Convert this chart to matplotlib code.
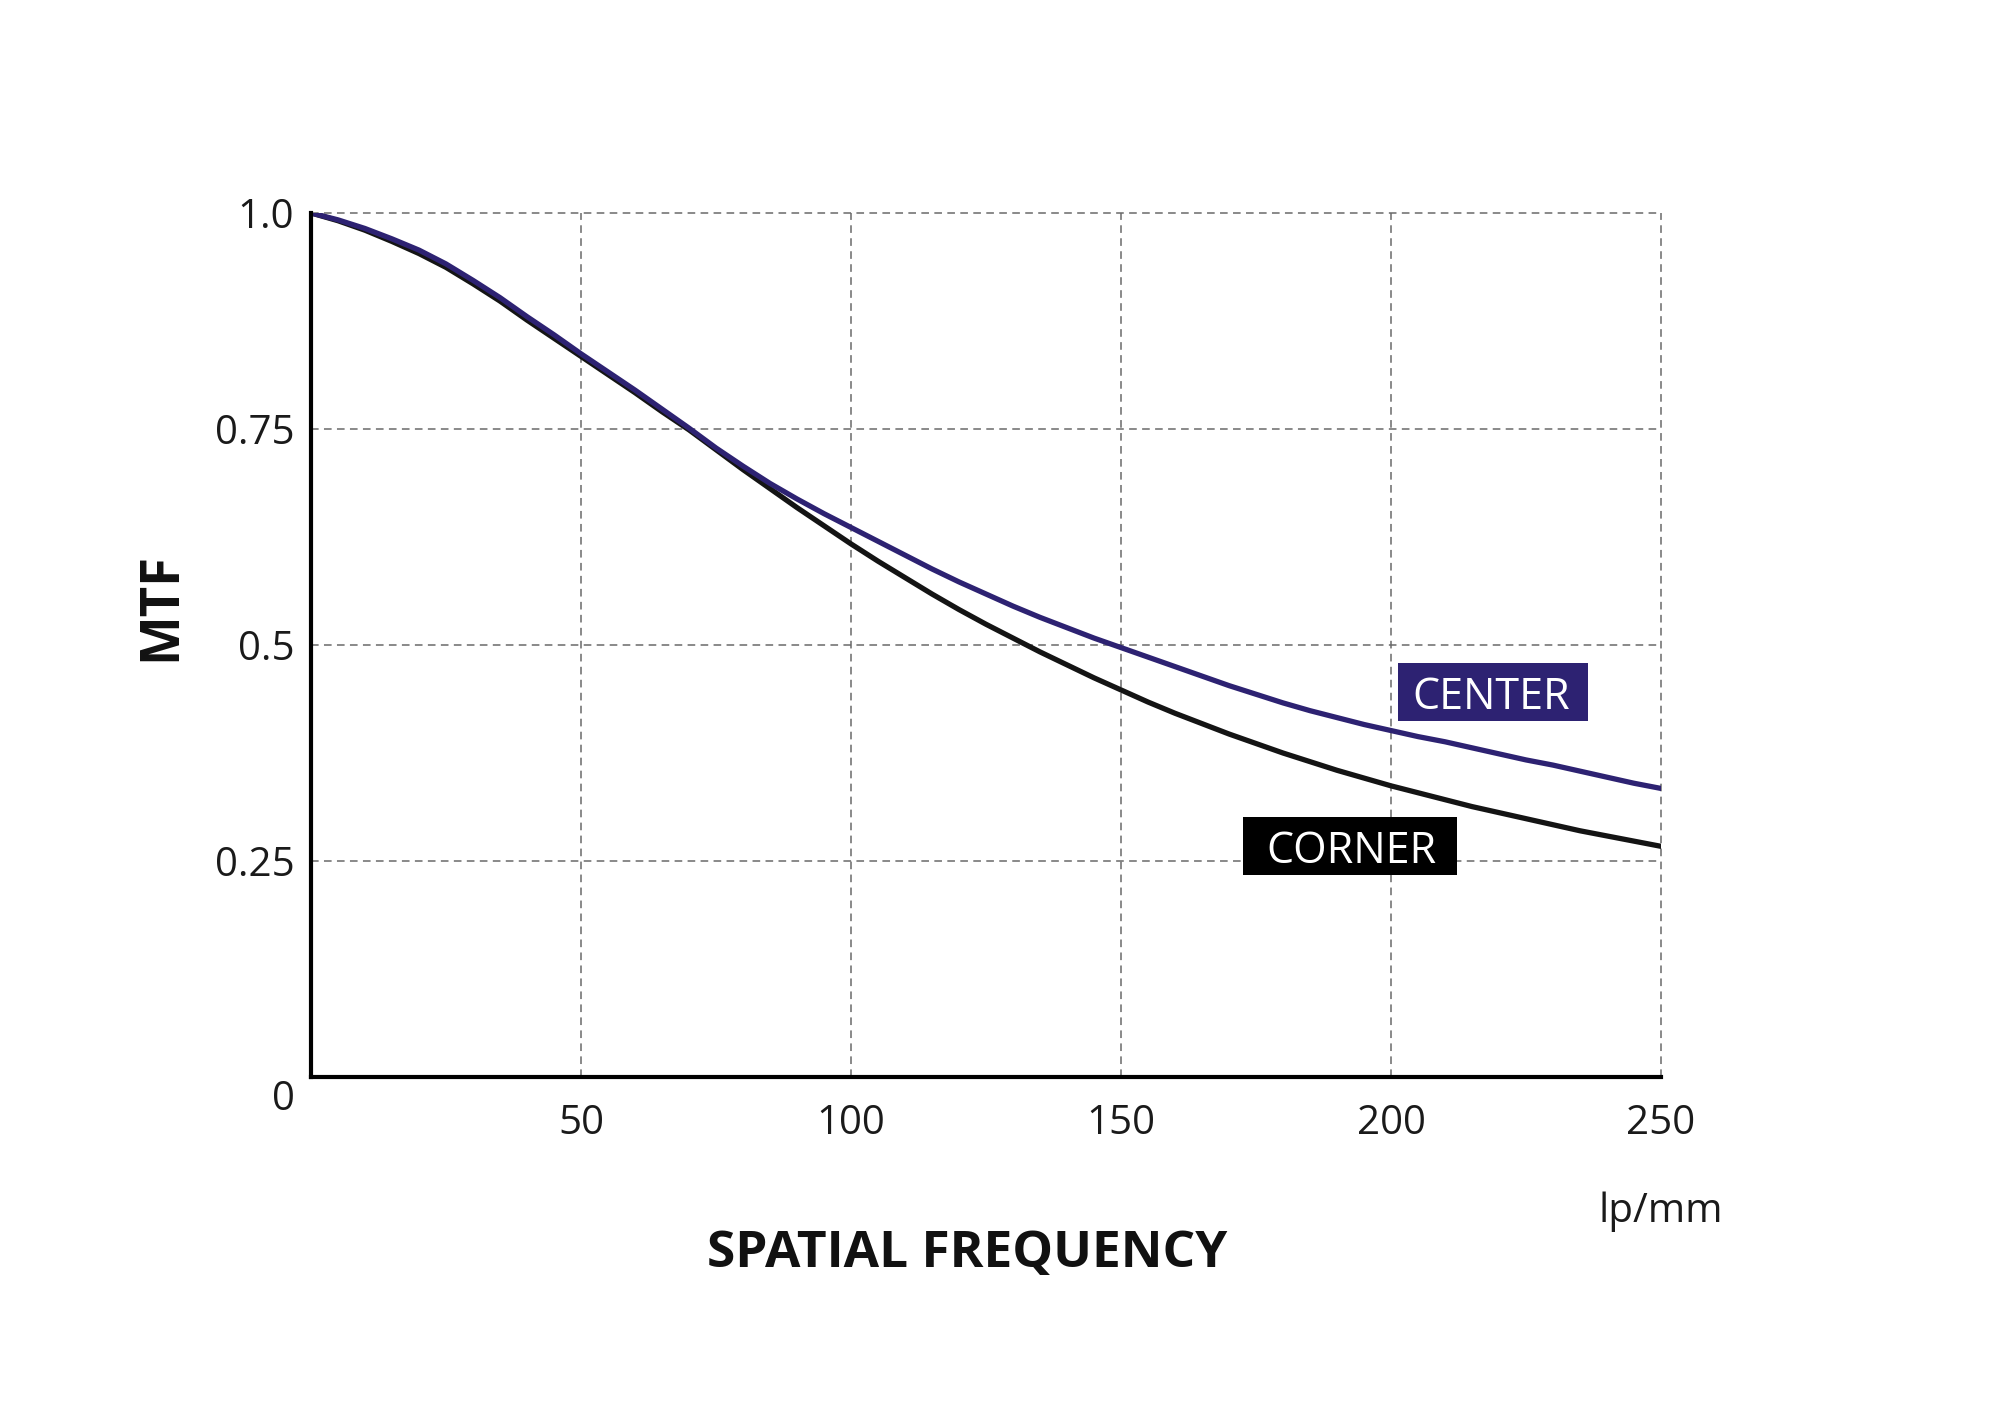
import matplotlib.pyplot as plt
from matplotlib.patches import Rectangle

# MTF curves (lp/mm vs MTF)
freq = [0, 5, 10, 15, 20, 25, 30, 35, 40, 45, 50, 55, 60, 65, 70, 75, 80, 85, 90, 95,
        100, 105, 110, 115, 120, 125, 130, 135, 140, 145, 150, 155, 160, 165, 170, 175,
        180, 185, 190, 195, 200, 205, 210, 215, 220, 225, 230, 235, 240, 245, 250]
mtf_center = [1.000, 0.992, 0.982, 0.970, 0.957, 0.941, 0.922, 0.902, 0.880, 0.859,
              0.837, 0.816, 0.795, 0.773, 0.751, 0.728, 0.707, 0.687, 0.669, 0.652,
              0.636, 0.620, 0.604, 0.588, 0.573, 0.559, 0.545, 0.532, 0.520, 0.508,
              0.497, 0.486, 0.475, 0.464, 0.453, 0.443, 0.433, 0.424, 0.416, 0.408,
              0.401, 0.394, 0.388, 0.381, 0.374, 0.367, 0.361, 0.354, 0.347, 0.340,
              0.334]
mtf_corner = [1.000, 0.991, 0.980, 0.967, 0.953, 0.937, 0.918, 0.898, 0.876, 0.855,
              0.834, 0.813, 0.792, 0.770, 0.749, 0.726, 0.703, 0.681, 0.659, 0.638,
              0.617, 0.597, 0.578, 0.559, 0.541, 0.524, 0.508, 0.492, 0.477, 0.462,
              0.448, 0.434, 0.421, 0.409, 0.397, 0.386, 0.375, 0.365, 0.355, 0.346,
              0.337, 0.329, 0.321, 0.313, 0.306, 0.299, 0.292, 0.285, 0.279, 0.273,
              0.267]

x_ticks = [50, 100, 150, 200, 250]
y_ticks = [0.25, 0.5, 0.75, 1.0]
y_tick_labels = ["0.25", "0.5", "0.75", "1.0"]

CENTER_COL = "#2d2272"
CORNER_COL = "#141414"
TXT = "#1a1a1a"
FONT = "Open Sans"

fig = plt.figure(figsize=(20, 14.14), dpi=100)
ax = fig.add_axes([0.1555, 0.2383, 0.675, 0.6111])

# dashed grid, top and right edges included
for yv in y_ticks:
    ax.axhline(yv, color="#6a6a6a", lw=1.1, ls=(0, (5, 3.5)), zorder=1, clip_on=False)
for xv in x_ticks:
    ax.axvline(xv, color="#6a6a6a", lw=1.1, ls=(0, (5, 3.5)), zorder=1, clip_on=False)

ax.plot(freq, mtf_corner, color=CORNER_COL, lw=3.8, zorder=3, solid_capstyle="round")
ax.plot(freq, mtf_center, color=CENTER_COL, lw=3.8, zorder=4, solid_capstyle="round")

ax.set_xlim(0, 250)
ax.set_ylim(0, 1.0)

for s in ["top", "right"]:
    ax.spines[s].set_visible(False)
for s in ["left", "bottom"]:
    ax.spines[s].set_linewidth(3)
    ax.spines[s].set_color("black")
    ax.spines[s].set_zorder(5)

ax.set_xticks(x_ticks)
ax.set_xticklabels([str(v) for v in x_ticks], fontname=FONT, fontsize=29, color=TXT)
ax.set_yticks(y_ticks)
ax.set_yticklabels(y_tick_labels, fontname=FONT, fontsize=29, color=TXT)
ax.tick_params(axis="x", length=0, pad=19)
ax.tick_params(axis="y", length=0, pad=12)

# zero sits below the corner, apart from the y ticks
ax.annotate("0", xy=(0, 0), xytext=(-20, -16), textcoords="offset points",
            ha="center", va="center", fontname=FONT, fontsize=29, color=TXT,
            annotation_clip=False)
ax.annotate("lp/mm", xy=(250, 0), xytext=(0, -97), textcoords="offset points",
            ha="center", va="center", fontname=FONT, fontsize=29, color=TXT,
            annotation_clip=False)

# curve labels in filled boxes
ax.add_patch(Rectangle((201.3, 0.412), 35.1, 0.0675, fc=CENTER_COL, ec="none", zorder=6))
ax.text(218.5, 0.4256, "CENTER", color="white", fontname=FONT, fontsize=31,
        ha="center", va="baseline", zorder=7)
ax.add_patch(Rectangle((172.6, 0.2335), 39.7, 0.0675, fc="black", ec="none", zorder=6))
ax.text(192.6, 0.2473, "CORNER", color="white", fontname=FONT, fontsize=31,
        ha="center", va="baseline", zorder=7)

fig.text(967 / 2000, 1 - 1254 / 1414, "SPATIAL FREQUENCY", fontname=FONT,
         fontweight="bold", fontsize=37, ha="center", va="center", color="#111111")
fig.text(161 / 2000, 1 - 606 / 1414, "MTF", fontname=FONT, fontweight="bold",
         fontsize=38, rotation=90, ha="center", va="center", color="#111111")

fig.savefig("out.png", dpi=100, facecolor="white")
